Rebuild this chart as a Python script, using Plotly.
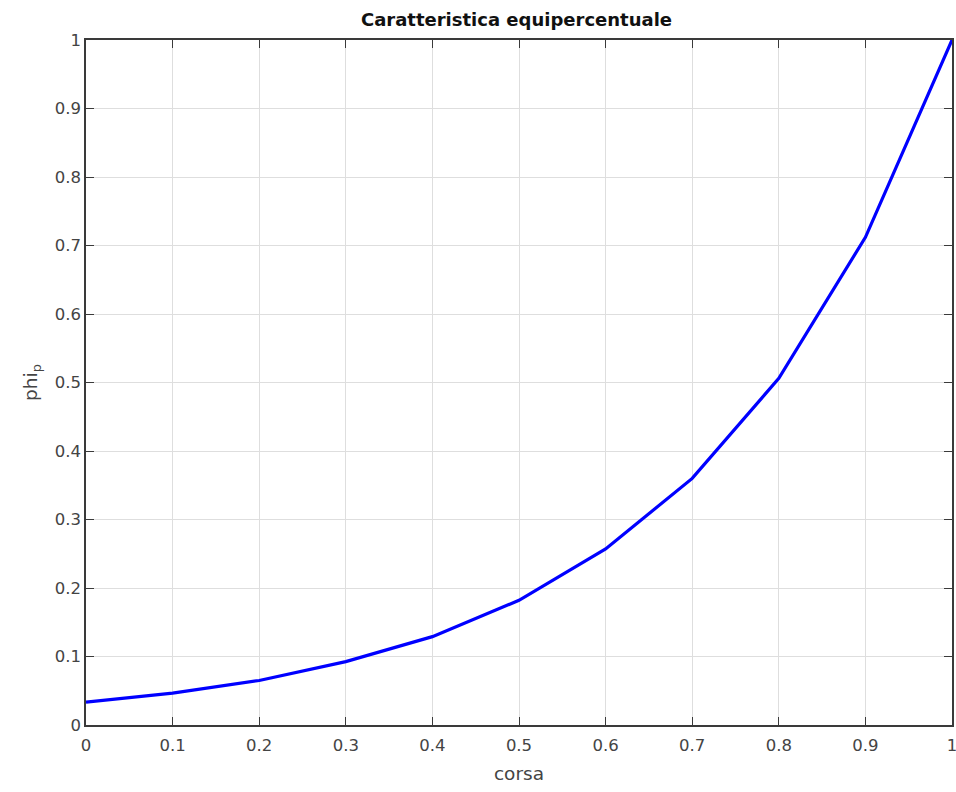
import plotly.graph_objects as go

corsa = [0.0, 0.1, 0.2, 0.3, 0.4, 0.5, 0.6, 0.7, 0.8, 0.9, 1.0]
phi_p = [0.0333, 0.0465, 0.065, 0.0925, 0.129, 0.182, 0.257, 0.360, 0.506, 0.712, 1.0]
tick_vals = [0, 0.1, 0.2, 0.3, 0.4, 0.5, 0.6, 0.7, 0.8, 0.9, 1]
tick_text = ["0", "0.1", "0.2", "0.3", "0.4", "0.5", "0.6", "0.7", "0.8", "0.9", "1"]

FONT = "DejaVu Sans"

fig = go.Figure()
fig.add_trace(go.Scatter(x=corsa, y=phi_p, mode="lines",
                         line=dict(color="#0000ff", width=3.2), showlegend=False))

axis_common = dict(
    range=[0, 1], tickvals=tick_vals, ticktext=tick_text, automargin=False,
    showgrid=True, gridcolor="#dedede", gridwidth=1,
    showline=True, linecolor="#3a3a3a", linewidth=1.5, mirror="ticks",
    ticks="inside", ticklen=8, tickcolor="#3a3a3a", tickwidth=1.3,
    ticklabeloverflow="allow",
    zeroline=False, tickfont=dict(family=FONT, size=16.5, color="#444444"),
)

fig.update_layout(
    width=956, height=792,
    margin=dict(l=86, r=4, t=40, b=67),
    plot_bgcolor="white", paper_bgcolor="white",
    title=dict(text="<b>Caratteristica equipercentuale</b>", x=(360 + 673) / 2 / 956,
               xanchor="center", xref="container", y=1 - 20 / 792, yanchor="middle",
               font=dict(family=FONT, size=18, color="#111111")),
    xaxis=dict(**axis_common, ticklabelstandoff=4,
               title=dict(text="corsa", standoff=14,
                          font=dict(family=FONT, size=18.5, color="#444444"))),
    yaxis=dict(**axis_common,
               title=dict(text="phi<sub>p</sub>", standoff=12,
                          font=dict(family=FONT, size=18.5, color="#444444"))),
)

fig.write_html("out.html", config={"displayModeBar": False},
               post_script="document.body.style.margin='0px';")
